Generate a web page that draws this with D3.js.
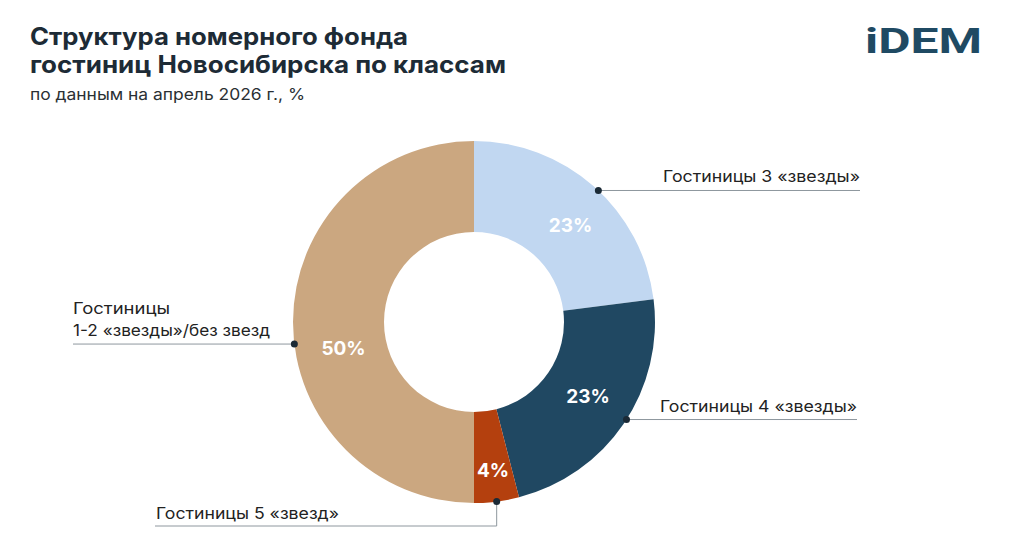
<!DOCTYPE html>
<html>
<head>
<meta charset="utf-8">
<script src="https://cdn.jsdelivr.net/npm/d3@7"></script>
<style>
  body { margin: 0; background: #fff; }
  svg { display: block; font-family: Inter, "Open Sans", sans-serif; }
</style>
</head>
<body>
<div id="chart"></div>
<script>
// структура номерного фонда, % (по часовой стрелке от 12 часов)
const categories = ['Гостиницы 3 «звезды»', 'Гостиницы 4 «звезды»', 'Гостиницы 5 «звезд»', 'Гостиницы|1-2 «звезды»/без звезд'];
const values = [23, 23, 4, 50];
const colors = ['#c1d7f1', '#204862', '#b4400e', '#cba780'];

const width = 1024, height = 543;
const cx = 474, cy = 322, rOuter = 181, rInner = 90;

// ручные поправки подписей (как в оригинале)
const pctShift = [[7, 5], [2, -2], [2, 14], [5, 26]];
const dotAngleShift = [2, -1.6, 0, -7];

const svg = d3.select('#chart').append('svg')
  .attr('width', width)
  .attr('height', height);

// заголовок
svg.append('text').attr('x', 30).attr('y', 45)
  .attr('font-size', 24).attr('font-weight', 700).attr('fill', '#1d2b36')
  .attr('textLength', 378).attr('lengthAdjust', 'spacingAndGlyphs')
  .text('Структура номерного фонда');
svg.append('text').attr('x', 30).attr('y', 73)
  .attr('font-size', 24).attr('font-weight', 700).attr('fill', '#1d2b36')
  .attr('textLength', 476).attr('lengthAdjust', 'spacingAndGlyphs')
  .text('гостиниц Новосибирска по классам');
svg.append('text').attr('x', 30).attr('y', 100)
  .attr('font-size', 16).attr('fill', '#2a2f33')
  .attr('textLength', 275).attr('lengthAdjust', 'spacingAndGlyphs')
  .text('по данным на апрель 2026 г., %');

// логотип
svg.append('text').attr('x', 865).attr('y', 53)
  .attr('font-size', 35).attr('font-weight', 700).attr('fill', '#1f4a63')
  .attr('font-family', 'Roboto, sans-serif')
  .attr('textLength', 117).attr('lengthAdjust', 'spacingAndGlyphs')
  .text('iDEM');

const pie = d3.pie().sort(null).value(d => d);
const arcs = pie(values);
const arc = d3.arc().innerRadius(rInner).outerRadius(rOuter);

const g = svg.append('g').attr('transform', `translate(${cx},${cy})`);

g.selectAll('path.slice')
  .data(arcs)
  .enter()
  .append('path')
  .attr('class', 'slice')
  .attr('d', arc)
  .attr('fill', (d, i) => colors[i]);

g.selectAll('text.pct')
  .data(arcs)
  .enter()
  .append('text')
  .attr('class', 'pct')
  .attr('x', (d, i) => arc.centroid(d)[0] + pctShift[i][0])
  .attr('y', (d, i) => arc.centroid(d)[1] + pctShift[i][1])
  .attr('text-anchor', 'middle')
  .attr('dominant-baseline', 'central')
  .attr('font-size', 19).attr('font-weight', 700).attr('fill', '#fff')
  .text(d => d.data + '%');

// выноски
const lineColor = '#8e979e';
const dotPos = arcs.map((d, i) => {
  const a = (d.startAngle + d.endAngle) / 2 + dotAngleShift[i] * Math.PI / 180;
  return [cx + rOuter * Math.sin(a), cy - rOuter * Math.cos(a)];
});

const labelFont = 16, labelColor = '#222';

// 3 звезды
svg.append('line').attr('x1', dotPos[0][0]).attr('y1', dotPos[0][1]).attr('x2', 860).attr('y2', dotPos[0][1])
  .attr('stroke', lineColor).attr('stroke-width', 1);
svg.append('text').attr('x', 860).attr('y', dotPos[0][1] - 8).attr('text-anchor', 'end')
  .attr('font-size', labelFont).attr('fill', labelColor)
  .attr('textLength', 197).attr('lengthAdjust', 'spacingAndGlyphs')
  .text(categories[0]);

// 4 звезды
svg.append('line').attr('x1', dotPos[1][0]).attr('y1', dotPos[1][1]).attr('x2', 857).attr('y2', dotPos[1][1])
  .attr('stroke', lineColor).attr('stroke-width', 1);
svg.append('text').attr('x', 857).attr('y', dotPos[1][1] - 8).attr('text-anchor', 'end')
  .attr('font-size', labelFont).attr('fill', labelColor)
  .attr('textLength', 197).attr('lengthAdjust', 'spacingAndGlyphs')
  .text(categories[1]);

// 5 звезд
svg.append('polyline')
  .attr('points', `${dotPos[2][0]},${dotPos[2][1]} ${dotPos[2][0]},526 155,526`)
  .attr('fill', 'none').attr('stroke', lineColor).attr('stroke-width', 1);
svg.append('text').attr('x', 156).attr('y', 519)
  .attr('font-size', labelFont).attr('fill', labelColor)
  .attr('textLength', 183).attr('lengthAdjust', 'spacingAndGlyphs')
  .text(categories[2]);

// 1-2 звезды
svg.append('line').attr('x1', dotPos[3][0]).attr('y1', dotPos[3][1]).attr('x2', 73).attr('y2', dotPos[3][1])
  .attr('stroke', lineColor).attr('stroke-width', 1);
const lines = categories[3].split('|');
svg.append('text').attr('x', 73).attr('y', dotPos[3][1] - 30)
  .attr('font-size', labelFont).attr('fill', labelColor)
  .attr('textLength', 97).attr('lengthAdjust', 'spacingAndGlyphs')
  .text(lines[0]);
svg.append('text').attr('x', 73).attr('y', dotPos[3][1] - 8)
  .attr('font-size', labelFont).attr('fill', labelColor)
  .attr('textLength', 197).attr('lengthAdjust', 'spacingAndGlyphs')
  .text(lines[1]);

svg.selectAll('circle.dot')
  .data(dotPos)
  .enter()
  .append('circle')
  .attr('class', 'dot')
  .attr('cx', d => d[0]).attr('cy', d => d[1])
  .attr('r', 3.5)
  .attr('fill', '#1b2a36');
</script>
</body>
</html>
